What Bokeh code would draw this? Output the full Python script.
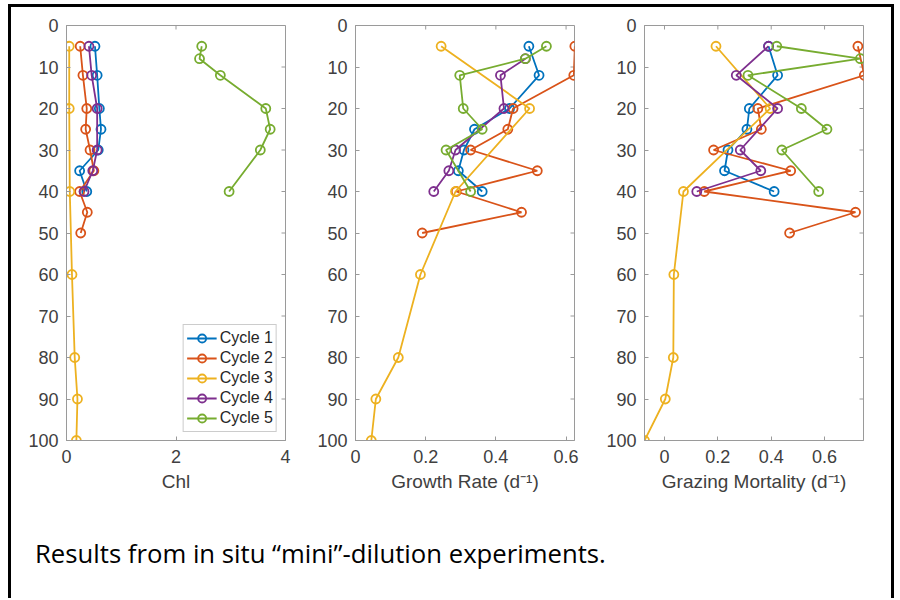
import math
from bokeh.plotting import figure
from bokeh.layouts import row, column
from bokeh.models import Range1d, FixedTicker, LinearAxis, Div, Legend, LegendItem, NumeralTickFormatter
from bokeh.embed import file_html
from bokeh.resources import INLINE

# ---------------- data ----------------
cycles = ["Cycle 1", "Cycle 2", "Cycle 3", "Cycle 4", "Cycle 5"]
colors = ["#0072BD", "#D95319", "#EDB120", "#7E2F8E", "#77AC30"]

depth_c1 = [5, 12, 20, 25, 30, 35, 40]
depth_c2 = [5, 12, 20, 25, 30, 35, 40, 45, 50]
depth_c3 = [5, 20, 40, 60, 80, 90, 100]
depth_c4 = [5, 12, 20, 30, 35, 40]
depth_c4_growth = [8, 12, 20, 30, 35, 40]
depth_c5 = [5, 8, 12, 20, 25, 30, 40]

chl_c1 = [0.52, 0.56, 0.60, 0.63, 0.58, 0.24, 0.37]
chl_c2 = [0.25, 0.30, 0.37, 0.35, 0.43, 0.50, 0.24, 0.38, 0.26]
chl_c3 = [0.05, 0.05, 0.06, 0.10, 0.15, 0.20, 0.18]
chl_c4 = [0.41, 0.46, 0.56, 0.56, 0.48, 0.32]
chl_c5 = [2.47, 2.43, 2.81, 3.64, 3.72, 3.54, 2.97]

growth_c1 = [0.494, 0.523, 0.439, 0.339, 0.309, 0.293, 0.361]
growth_c2 = [0.625, 0.622, 0.449, 0.434, 0.328, 0.518, 0.287, 0.473, 0.190]
growth_c3 = [0.244, 0.496, 0.285, 0.185, 0.122, 0.058, 0.045]
growth_c4 = [0.484, 0.413, 0.423, 0.285, 0.266, 0.223]
growth_c5 = [0.544, 0.484, 0.297, 0.307, 0.361, 0.258, 0.328]

graze_c1 = [0.390, 0.424, 0.318, 0.309, 0.238, 0.225, 0.411]
graze_c2 = [0.725, 0.749, 0.350, 0.363, 0.184, 0.473, 0.149, 0.716, 0.469]
graze_c3 = [0.193, 0.396, 0.071, 0.035, 0.033, 0.003, -0.075]
graze_c4 = [0.390, 0.269, 0.424, 0.284, 0.361, 0.121]
graze_c5 = [0.421, 0.734, 0.313, 0.513, 0.609, 0.440, 0.578]

depth_ticks = [0, 10, 20, 30, 40, 50, 60, 70, 80, 90, 100]
chl_ticks = [0, 2, 4]
rate_ticks = [0, 0.2, 0.4, 0.6]

AX = "#9a9a9a"
TXT = "#404040"
FONT = "Liberation Sans"


def make_panel(xr, xticks, xlabel, series, legend=False):
    p = figure(frame_width=219, frame_height=415,
               x_range=Range1d(*xr), y_range=Range1d(depth_ticks[-1], depth_ticks[0]),
               output_backend="svg", toolbar_location=None,
               min_border_left=55, min_border_right=15, min_border_top=18, min_border_bottom=62,
               x_axis_location=None, y_axis_location=None)
    p.grid.visible = False
    p.outline_line_color = AX
    p.outline_line_width = 1
    p.background_fill_color = "white"
    p.border_fill_color = "white"

    xa = LinearAxis(ticker=FixedTicker(ticks=xticks), axis_label=xlabel,
                    formatter=NumeralTickFormatter(format="0.[0]"))
    ya = LinearAxis(ticker=FixedTicker(ticks=depth_ticks))
    for a in (xa, ya):
        a.axis_line_color = AX
        a.major_tick_line_color = AX
        a.major_tick_in = 4
        a.major_tick_out = 0
        a.minor_tick_line_color = None
        a.major_label_text_font = FONT
        a.major_label_text_font_size = "18px"
        a.major_label_text_color = TXT
        a.axis_label_text_font = FONT
        a.axis_label_text_font_size = "19px"
        a.axis_label_text_font_style = "normal"
        a.axis_label_text_color = TXT
    xa.major_label_standoff = 9
    xa.axis_label_standoff = 5
    ya.major_label_standoff = 8
    p.add_layout(xa, "below")
    p.add_layout(ya, "left")

    # mirrored inward ticks on the top and right edges of the box
    p.ray(x=xticks, y=[depth_ticks[0]] * len(xticks), length=4, length_units="screen",
          angle=-math.pi / 2, line_color=AX, line_width=1)
    p.ray(x=[xr[1]] * len(depth_ticks), y=depth_ticks, length=4, length_units="screen",
          angle=math.pi, line_color=AX, line_width=1)

    items = []
    for (xs, ys), c, name in zip(series, colors, cycles):
        r1 = p.line(xs, ys, line_color=c, line_width=1.8)
        r2 = p.scatter(xs, ys, marker="circle", size=9, line_color=c, line_width=1.8,
                       fill_color=None)
        items.append(LegendItem(label=name, renderers=[r1, r2]))
    if legend:
        lg = Legend(items=items, location="bottom_right")
        lg.label_text_font = FONT
        lg.label_text_font_size = "16px"
        lg.label_text_color = "#262626"
        lg.border_line_color = AX
        lg.background_fill_alpha = 1.0
        lg.margin = 8
        lg.padding = 3
        lg.spacing = 0
        lg.label_height = 20
        lg.glyph_height = 20
        lg.glyph_width = 30
        lg.label_standoff = 3
        p.add_layout(lg, "center")
    return p


p1 = make_panel((0, 4), chl_ticks, "Chl",
                [(chl_c1, depth_c1), (chl_c2, depth_c2), (chl_c3, depth_c3),
                 (chl_c4, depth_c4), (chl_c5, depth_c5)], legend=True)
p2 = make_panel((0, 0.624), rate_ticks, "Growth Rate (d\u207b\u00b9)",
                [(growth_c1, depth_c1), (growth_c2, depth_c2), (growth_c3, depth_c3),
                 (growth_c4, depth_c4_growth), (growth_c5, depth_c5)])
p3 = make_panel((-0.075, 0.746), rate_ticks, "Grazing Mortality (d\u207b\u00b9)",
                [(graze_c1, depth_c1), (graze_c2, depth_c2), (graze_c3, depth_c3),
                 (graze_c4, depth_c4), (graze_c5, depth_c5)])

caption = Div(text=('<div style="padding-left:24px;padding-top:34px;'
                    'font-family:\'Open Sans\',sans-serif;font-size:25.7px;color:#000;'
                    'white-space:nowrap;">'
                    'Results from in situ \u201cmini\u201d-dilution experiments.</div>'),
              width=880, height=96, margin=0)

BAR = {"background-color": "black"}
top_bar = Div(text="", width=886, height=3, styles=BAR, margin=0)
left_bar = Div(text="", width=3, height=591, styles=BAR, margin=0)
right_bar = Div(text="", width=3, height=591, styles=BAR, margin=0)

inner = column(row(p1, p2, p3), caption)
layout = column(top_bar, row(left_bar, inner, right_bar),
                styles={"margin-left": "8px", "margin-top": "4px"})

open("out.html", "w").write(file_html(layout, INLINE))
